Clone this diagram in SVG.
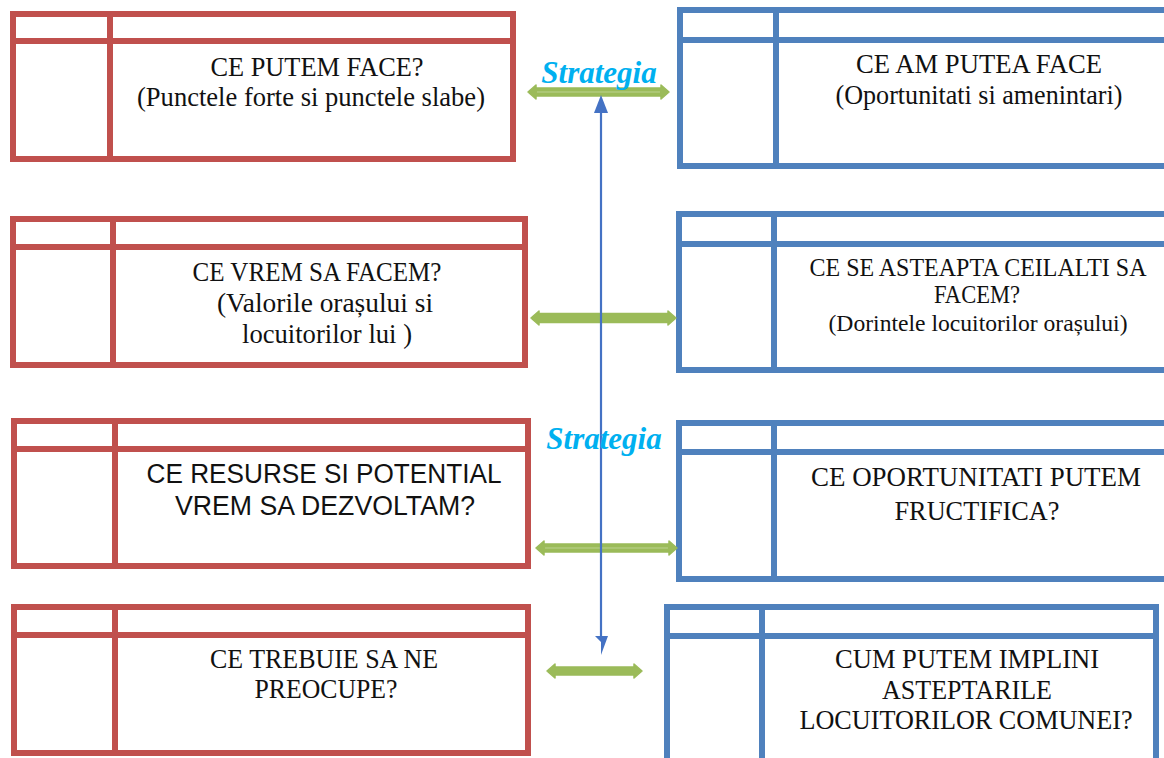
<svg xmlns="http://www.w3.org/2000/svg" width="1164" height="758" viewBox="0 0 1164 758">
<style>
.red rect, .red line{fill:none;stroke:#C0504D;stroke-width:6}
.blue rect, .blue line{fill:none;stroke:#4F81BD;stroke-width:6}
.t{font-family:"Liberation Serif","Times New Roman",serif;fill:#111;text-anchor:middle}
.a{font-family:"Liberation Sans",Arial,sans-serif;fill:#111;text-anchor:middle}
.strat{font-family:"Liberation Serif","Times New Roman",serif;font-weight:bold;font-style:italic;font-size:31px;fill:#00B0F0;text-anchor:middle}
.garrow{fill:#9BBB59;stroke:#9BBB59;stroke-width:1.5;stroke-linejoin:round}
.hl{stroke:#C4D89E;stroke-width:0.8}
.vline{stroke:#4472C4;stroke-width:2.2}
.vhead{fill:#4472C4}
</style>
<rect width="1164" height="758" fill="#fff"/>

<g id="node-red1" class="red">
<rect x="13" y="14" width="500" height="145"/>
<line x1="13" y1="41" x2="513" y2="41"/>
<line x1="110" y1="14" x2="110" y2="159"/>
<text class="t" x="317" y="76" font-size="28" textLength="213" lengthAdjust="spacingAndGlyphs">CE PUTEM FACE?</text>
<text class="t" x="311" y="106" font-size="28" textLength="348" lengthAdjust="spacingAndGlyphs">(Punctele forte si punctele slabe)</text>
</g>

<g id="node-red2" class="red">
<rect x="13" y="219" width="512" height="146"/>
<line x1="13" y1="247" x2="525" y2="247"/>
<line x1="113" y1="219" x2="113" y2="365"/>
<text class="t" x="317" y="281" font-size="27" textLength="249" lengthAdjust="spacingAndGlyphs">CE VREM SA FACEM?</text>
<text class="t" x="325" y="312" font-size="27" textLength="216" lengthAdjust="spacingAndGlyphs">(Valorile orașului si</text>
<text class="t" x="327" y="343" font-size="27" textLength="170" lengthAdjust="spacingAndGlyphs">locuitorilor lui )</text>
</g>

<g id="node-red3" class="red">
<rect x="14" y="421" width="514" height="145"/>
<line x1="14" y1="449" x2="528" y2="449"/>
<line x1="115" y1="421" x2="115" y2="566"/>
<text class="a" x="324" y="483" font-size="27" textLength="355" lengthAdjust="spacingAndGlyphs">CE RESURSE SI POTENTIAL</text>
<text class="a" x="325" y="515" font-size="27" textLength="300" lengthAdjust="spacingAndGlyphs">VREM SA DEZVOLTAM?</text>
</g>

<g id="node-red4" class="red">
<rect x="14" y="607" width="514" height="146"/>
<line x1="14" y1="635" x2="528" y2="635"/>
<line x1="115" y1="607" x2="115" y2="753"/>
<text class="t" x="324" y="668" font-size="27" textLength="228" lengthAdjust="spacingAndGlyphs">CE TREBUIE SA NE</text>
<text class="t" x="326" y="698" font-size="27" textLength="143" lengthAdjust="spacingAndGlyphs">PREOCUPE?</text>
</g>

<g id="node-blue1" class="blue">
<rect x="680" y="10" width="490" height="156"/>
<line x1="680" y1="40" x2="1170" y2="40"/>
<line x1="776" y1="10" x2="776" y2="166"/>
<text class="t" x="979" y="73" font-size="28" textLength="246" lengthAdjust="spacingAndGlyphs">CE AM PUTEA FACE</text>
<text class="t" x="979" y="104" font-size="28" textLength="287" lengthAdjust="spacingAndGlyphs">(Oportunitati si amenintari)</text>
</g>

<g id="node-blue2" class="blue">
<rect x="679" y="214" width="492" height="156"/>
<line x1="679" y1="244" x2="1171" y2="244"/>
<line x1="774" y1="214" x2="774" y2="370"/>
<text class="t" x="978" y="276" font-size="25" textLength="337" lengthAdjust="spacingAndGlyphs">CE SE ASTEAPTA CEILALTI SA</text>
<text class="t" x="977" y="303" font-size="25" textLength="86" lengthAdjust="spacingAndGlyphs">FACEM?</text>
<text class="t" x="978" y="331" font-size="24" textLength="299" lengthAdjust="spacingAndGlyphs">(Dorintele locuitorilor orașului)</text>
</g>

<g id="node-blue3" class="blue">
<rect x="679" y="423" width="492" height="156"/>
<line x1="679" y1="452" x2="1171" y2="452"/>
<line x1="774" y1="423" x2="774" y2="579"/>
<text class="t" x="976" y="486" font-size="28" textLength="330" lengthAdjust="spacingAndGlyphs">CE OPORTUNITATI PUTEM</text>
<text class="t" x="977" y="520" font-size="28" textLength="165" lengthAdjust="spacingAndGlyphs">FRUCTIFICA?</text>
</g>

<g id="node-blue4" class="blue">
<rect x="667" y="607" width="489" height="170"/>
<line x1="667" y1="636" x2="1156" y2="636"/>
<line x1="762" y1="607" x2="762" y2="777"/>
<text class="t" x="967" y="668" font-size="28" textLength="264" lengthAdjust="spacingAndGlyphs">CUM PUTEM IMPLINI</text>
<text class="t" x="967" y="699" font-size="28" textLength="170" lengthAdjust="spacingAndGlyphs">ASTEPTARILE</text>
<text class="t" x="966" y="729" font-size="28" textLength="333" lengthAdjust="spacingAndGlyphs">LOCUITORILOR COMUNEI?</text>
</g>

<g id="connectors">
<polygon class="garrow" points="528,92 536,85 536,88 661,88 661,85 669,92 661,99 661,96 536,96 536,99"/>
<line class="hl" x1="537" y1="92" x2="660" y2="92"/>
<polygon class="garrow" points="531,318 539,311 539,313.5 668,313.5 668,311 676,318 668,325 668,322.5 539,322.5 539,325"/>
<polygon class="garrow" points="536,548 544,541 544,544 669,544 669,541 677,548 669,555 669,552 544,552 544,555"/>
<line class="hl" x1="545" y1="548" x2="668" y2="548"/>
<polygon class="garrow" points="547,671 555,664 555,667 634,667 634,664 642,671 634,678 634,675 555,675 555,678"/>

<line class="vline" x1="601" y1="112" x2="601" y2="640"/>
<polygon class="vhead" points="601,95 594,113 608,113"/>
<polygon class="vhead" points="595,636 608,636 601,655 601,642"/>
</g>

<g id="labels">
<text class="strat" x="599" y="83">Strategia</text>
<text class="strat" x="604" y="449">Strategia</text>
</g>
</svg>
